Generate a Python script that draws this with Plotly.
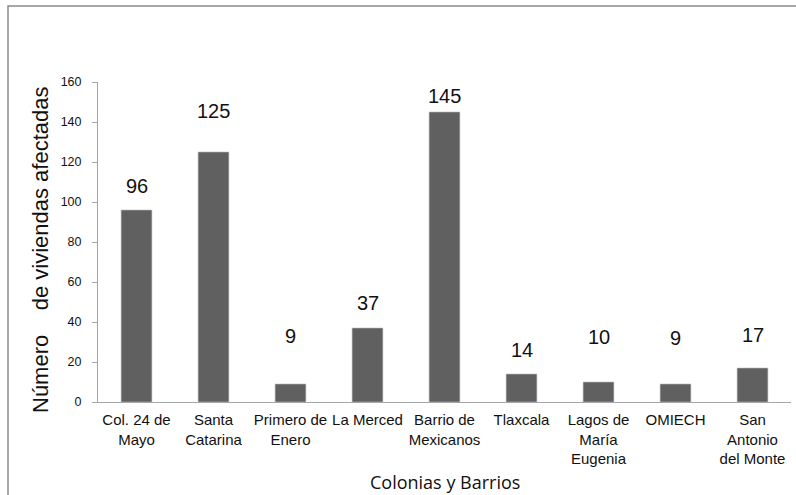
import plotly.graph_objects as go

# Viviendas afectadas por colonia / barrio
categorias = [
    "Col. 24 de<br>Mayo",
    "Santa<br>Catarina",
    "Primero de<br>Enero",
    "La Merced",
    "Barrio de<br>Mexicanos",
    "Tlaxcala",
    "Lagos de<br>María<br>Eugenia",
    "OMIECH",
    "San<br>Antonio<br>del Monte",
]
viviendas = [96, 125, 9, 37, 145, 14, 10, 9, 17]
# vertical lift (px) of each value label above its bar
desplazamiento = [24, 41, 48, 25, 16, 24, 45, 46, 33]
ticks_y = [0, 20, 40, 60, 80, 100, 120, 140, 160]

L, R, T, B = 98, 5, 82, 93
W, H = 796, 495
pw, ph = W - L - R, H - T - B

fig = go.Figure(
    go.Bar(
        x=list(range(len(categorias))),
        y=viviendas,
        marker=dict(color="#606060", line=dict(color="#bdbdbd", width=0.6)),
        width=0.4,
        hoverinfo="skip",
    )
)

for i, (v, d) in enumerate(zip(viviendas, desplazamiento)):
    fig.add_annotation(
        x=i, y=v, text=str(v), showarrow=False, yanchor="middle",
        yshift=d, font=dict(family="Liberation Sans, Arial", size=20, color="#111111"),
    )

# y-axis title
fig.add_annotation(
    xref="paper", yref="paper", x=(40 - L) / pw, y=(H - B - 250) / ph,
    text="Número    de viviendas afectadas", textangle=-90, showarrow=False,
    xanchor="center", yanchor="middle",
    font=dict(family="Liberation Sans, Arial", size=22, color="#111111"),
)
# x-axis title
fig.add_annotation(
    xref="paper", yref="paper", x=0.5, y=-(482 - (H - B)) / ph,
    text="Colonias y Barrios", showarrow=False, xanchor="center", yanchor="middle",
    font=dict(family="Open Sans", size=18, color="#111111"),
)

# chart frame
fig.add_shape(
    type="rect", xref="paper", yref="paper",
    x0=(8 - L) / pw, x1=(W + 20 - L) / pw,
    y0=-(H + 20 - (H - B)) / ph, y1=(H - B - 6) / ph,
    line=dict(color="#8a8a8a", width=1.5), fillcolor="rgba(0,0,0,0)", layer="below",
)

fig.update_layout(
    width=W, height=H,
    margin=dict(l=L, r=R, t=T, b=B),
    paper_bgcolor="white", plot_bgcolor="white",
    showlegend=False,
    font=dict(family="Liberation Sans, Arial", color="#111111"),
)
fig.update_xaxes(
    range=[-0.5, len(categorias) - 0.5],
    tickmode="array", tickvals=list(range(len(categorias))), ticktext=categorias,
    showline=True, linecolor="#a6a6a6", linewidth=1,
    showgrid=False, ticks="", zeroline=False, ticklabelstandoff=4,
    tickfont=dict(size=15, color="#111111"),
)
fig.update_yaxes(
    range=[0, 160], tickmode="array", tickvals=ticks_y,
    showline=True, linecolor="#a6a6a6", linewidth=1,
    ticks="outside", ticklen=5, tickcolor="#a6a6a6",
    showgrid=False, zeroline=False, ticklabelstandoff=8,
    tickfont=dict(size=12.5, color="#111111"),
)

fig.write_html("out.html")
